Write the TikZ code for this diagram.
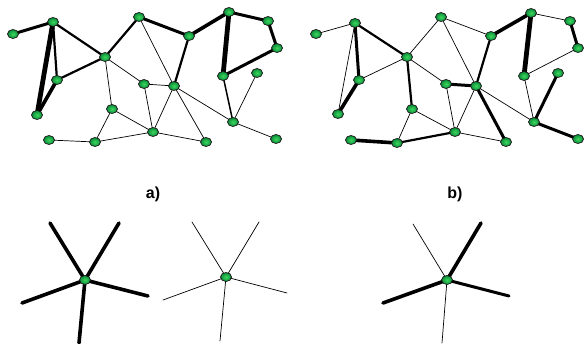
\documentclass[tikz,border=0pt]{standalone}
\usepackage{fontspec}
\setmainfont{Liberation Sans}
\usetikzlibrary{shapes.geometric,backgrounds}
\begin{document}
\begin{tikzpicture}[x=1pt,y=-1pt,
  nd/.style={ellipse,draw=black!90,line width=0.7pt,inner sep=0pt,minimum width=11pt,minimum height=9pt,
    inner color={rgb,255:red,60;green,215;blue,95},outer color={rgb,255:red,10;green,140;blue,55}},
  e/.style={draw=black,line cap=round,line width=0.7pt},
  ea/.style={e,line width=1.5pt},
  eb/.style={e,line width=2.2pt},
  ec/.style={e,line width=3pt},
  ed/.style={e,line width=3.6pt},
  ee/.style={e,line width=4.8pt},
  lbl/.style={font=\bfseries\fontsize{16}{19}\selectfont,inner sep=0pt}]
\useasboundingbox (0,0) rectangle (585,344);
% ---------- graph a ----------
\node[nd] (a1) at (13,34) {};
\node[nd] (a2) at (53,22) {};
\node[nd] (a3) at (139,17) {};
\node[nd] (a4) at (189,36) {};
\node[nd] (a5) at (229,12) {};
\node[nd] (a6) at (268,21) {};
\node[nd] (a7) at (277,48) {};
\node[nd] (a8) at (105,57) {};
\node[nd] (a9) at (57,80) {};
\node[nd] (a10) at (144,84) {};
\node[nd] (a11) at (174,86) {};
\node[nd] (a12) at (223,76) {};
\node[nd] (a13) at (257,73) {};
\node[nd] (a14) at (37,115) {};
\node[nd] (a15) at (112,109) {};
\node[nd] (a16) at (153,132) {};
\node[nd] (a17) at (233,122) {};
\node[nd] (a18) at (49,140) {};
\node[nd] (a19) at (95,142) {};
\node[nd] (a20) at (206,142) {};
\node[nd] (a21) at (276,139) {};
% ---------- graph b ----------
\node[nd] (b1) at (316,34) {};
\node[nd] (b2) at (355,23) {};
\node[nd] (b3) at (441,17) {};
\node[nd] (b4) at (491,36) {};
\node[nd] (b5) at (531,13) {};
\node[nd] (b6) at (570,21) {};
\node[nd] (b7) at (578,48) {};
\node[nd] (b8) at (407,57) {};
\node[nd] (b9) at (359,80) {};
\node[nd] (b10) at (446,84) {};
\node[nd] (b11) at (476,86) {};
\node[nd] (b12) at (524,76) {};
\node[nd] (b13) at (558,73) {};
\node[nd] (b14) at (338,114) {};
\node[nd] (b15) at (412,109) {};
\node[nd] (b16) at (455,132) {};
\node[nd] (b17) at (534,122) {};
\node[nd] (b18) at (351,140) {};
\node[nd] (b19) at (397,143) {};
\node[nd] (b20) at (506,142) {};
\node[nd] (b21) at (578,139) {};
% ---------- labels ----------
\node[lbl] (la) at (153,194) {a)};
\node[lbl] (lb) at (455,194) {b)};
% ---------- stars ----------
\node[nd] (s1) at (85,280) {};
\coordinate (s1a) at (50,223);
\coordinate (s1b) at (119,223);
\coordinate (s1c) at (22,303);
\coordinate (s1d) at (148,296);
\coordinate (s1e) at (79,343);
\node[nd] (s2) at (226,277) {};
\coordinate (s2a) at (192,222);
\coordinate (s2b) at (259,222);
\coordinate (s2c) at (163,300);
\coordinate (s2d) at (287,293);
\coordinate (s2e) at (220,341);
\node[nd] (s3) at (447,280) {};
\coordinate (s3a) at (413,224);
\coordinate (s3b) at (481,223);
\coordinate (s3c) at (383,303);
\coordinate (s3d) at (509,296);
\coordinate (s3e) at (442,343);
\begin{pgfonlayer}{background}
% graph a edges
\draw[ec] (a1.center) -- (a2.center);
\draw[ee] (a2.center) -- (a14.center);
\draw[eb] (a2.center) -- (a9.center);
\draw[ed] (a9.center) -- (a14.center);
\draw[eb] (a2.center) -- (a8.center);
\draw[eb] (a9.center) -- (a8.center);
\draw[eb] (a8.center) -- (a3.center);
\draw[ec] (a3.center) -- (a4.center);
\draw[ed] (a4.center) -- (a5.center);
\draw[eb] (a4.center) -- (a11.center);
\draw[e] (a3.center) -- (a11.center);
\draw[e] (a8.center) -- (a10.center);
\draw[e] (a8.center) -- (a15.center);
\draw[e] (a10.center) -- (a11.center);
\draw[e] (a10.center) -- (a16.center);
\draw[e] (a11.center) -- (a16.center);
\draw[e] (a11.center) -- (a20.center);
\draw[e] (a11.center) -- (a17.center);
\draw[e] (a15.center) -- (a16.center);
\draw[e] (a15.center) -- (a19.center);
\draw[e] (a18.center) -- (a19.center);
\draw[e] (a19.center) -- (a16.center);
\draw[e] (a16.center) -- (a20.center);
\draw[ec] (a5.center) -- (a6.center);
\draw[ec] (a6.center) -- (a7.center);
\draw[ec] (a7.center) -- (a12.center);
\draw[ee] (a5.center) -- (a12.center);
\draw[ea] (a12.center) -- (a17.center);
\draw[e] (a13.center) -- (a17.center);
\draw[e] (a17.center) -- (a21.center);
% graph b edges
\draw[e] (b1.center) -- (b2.center);
\draw[e] (b2.center) -- (b14.center);
\draw[ec] (b2.center) -- (b9.center);
\draw[ed] (b9.center) -- (b14.center);
\draw[eb] (b2.center) -- (b8.center);
\draw[e] (b9.center) -- (b8.center);
\draw[e] (b8.center) -- (b3.center);
\draw[e] (b3.center) -- (b4.center);
\draw[ed] (b4.center) -- (b5.center);
\draw[eb] (b4.center) -- (b11.center);
\draw[e] (b3.center) -- (b11.center);
\draw[e] (b8.center) -- (b10.center);
\draw[eb] (b8.center) -- (b15.center);
\draw[ec] (b10.center) -- (b11.center);
\draw[e] (b10.center) -- (b16.center);
\draw[e] (b11.center) -- (b16.center);
\draw[ec] (b11.center) -- (b20.center);
\draw[e] (b11.center) -- (b17.center);
\draw[e] (b15.center) -- (b16.center);
\draw[e] (b15.center) -- (b19.center);
\draw[ed] (b18.center) -- (b19.center);
\draw[eb] (b19.center) -- (b16.center);
\draw[e] (b16.center) -- (b20.center);
\draw[e] (b5.center) -- (b6.center);
\draw[ec] (b6.center) -- (b7.center);
\draw[e] (b7.center) -- (b12.center);
\draw[ee] (b5.center) -- (b12.center);
\draw[e] (b12.center) -- (b17.center);
\draw[ec] (b13.center) -- (b17.center);
\draw[ec] (b17.center) -- (b21.center);
% stars
\foreach \t in {a,b,c,d,e} \draw[ed] (s1.center) -- (s1\t);
\foreach \t in {a,b,c,d,e} \draw[e] (s2.center) -- (s2\t);
\draw[e] (s3.center) -- (s3a);
\draw[ed] (s3.center) -- (s3b);
\draw[ed] (s3.center) -- (s3c);
\draw[ec] (s3.center) -- (s3d);
\draw[e] (s3.center) -- (s3e);
\end{pgfonlayer}
\end{tikzpicture}
\end{document}
